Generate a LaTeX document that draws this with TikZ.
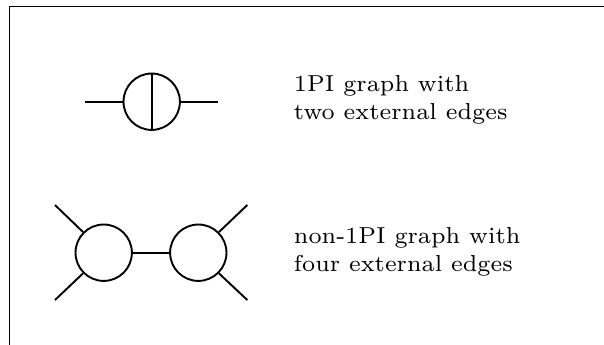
\documentclass[tikz,border=0pt]{standalone}
\begin{document}
\begin{tikzpicture}[x=0.305pt,y=-0.305pt,
  edge/.style={line width=0.58pt},
  blob/.style={circle,draw,line width=0.58pt,inner sep=0pt,minimum size=17.2pt},
  lbl/.style={anchor=base west,align=left,inner sep=0pt,font=\fontsize{7.05}{8.45}\selectfont}]
\useasboundingbox (0,0) rectangle (604,344);
\clip (0,0) rectangle (604,344);
% frame
\coordinate (fb) at (9.5,350);
\coordinate (ftl) at (9.5,6.5);
\coordinate (fr) at (610,6.5);
\draw[line width=0.4pt] (fb) -- (ftl) -- (fr);
% 1PI graph
\node[blob] (a) at (151.7,101.7) {};
\coordinate (al) at (85,101.7);
\coordinate (ar) at (218.3,101.7);
\draw[edge] (al) -- (a.west);
\draw[edge] (a.east) -- (ar);
\draw[edge] (a.north) -- (a.south);
\node[lbl] (ta) at (293.3,119.6) {1PI graph with\\two external edges};
% non-1PI graph
\node[blob] (b) at (103.7,252.7) {};
\node[blob] (c) at (198.3,252.7) {};
\coordinate (bul) at (55,205);
\coordinate (bll) at (55,300);
\coordinate (cur) at (247.3,205);
\coordinate (clr) at (247.3,300);
\draw[edge] (bul) -- (b.135);
\draw[edge] (bll) -- (b.225);
\draw[edge] (cur) -- (c.45);
\draw[edge] (clr) -- (c.315);
\draw[edge] (b.east) -- (c.west);
\node[lbl] (tb) at (293.3,271.1) {non-1PI graph with\\four external edges};
\end{tikzpicture}
\end{document}
